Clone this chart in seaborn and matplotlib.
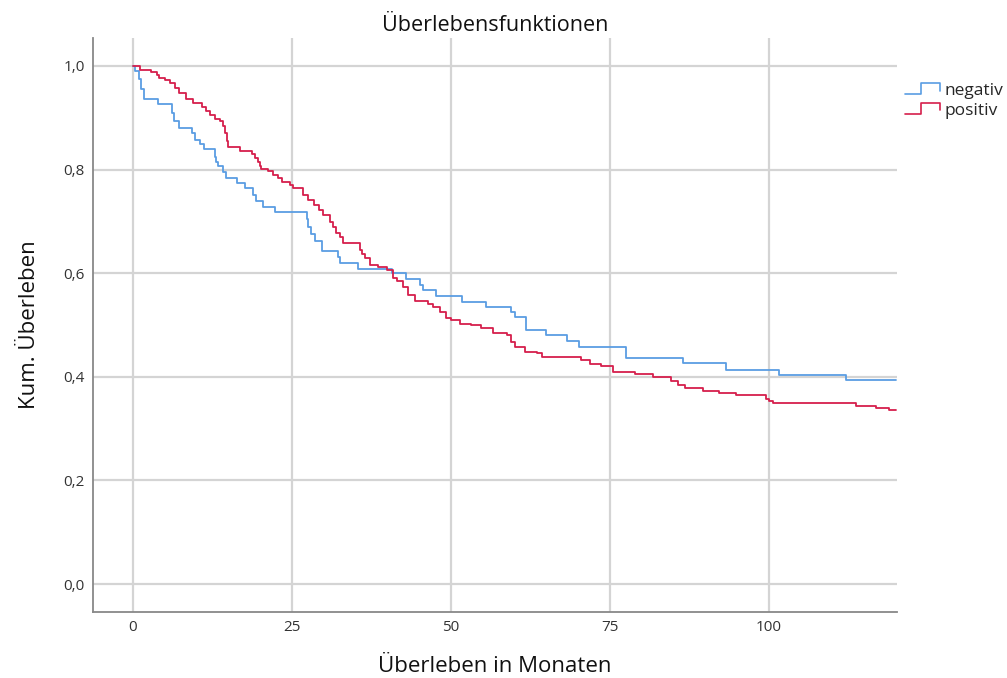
import matplotlib
matplotlib.use("Agg")
import matplotlib.pyplot as plt
import seaborn as sns
import pandas as pd
from matplotlib.legend_handler import HandlerBase
from matplotlib.lines import Line2D

# ---- data ----
neg_time = [0, 0.3, 1.0, 1.3, 1.7, 3.9, 6.1, 6.5, 7.3, 9.3, 9.8, 10.6, 11.2, 12.9, 13.1, 13.4,
            14.2, 14.7, 16.3, 17.6, 18.9, 19.4, 20.5, 22.3, 27.3, 27.6, 28.0, 28.6, 29.7, 32.2,
            32.6, 35.4, 40.8, 43.0, 45.1, 45.7, 47.6, 51.8, 55.6, 59.4, 60.1, 61.9, 65.0, 68.2,
            70.2, 77.6, 86.6, 93.3, 101.7, 112.1, 120.0]
neg_surv = [1.0, 0.990, 0.975, 0.955, 0.936, 0.926, 0.910, 0.894, 0.881, 0.871, 0.858, 0.849,
            0.839, 0.825, 0.815, 0.806, 0.796, 0.784, 0.774, 0.764, 0.751, 0.739, 0.728, 0.719,
            0.705, 0.690, 0.675, 0.662, 0.643, 0.632, 0.620, 0.609, 0.600, 0.589, 0.578, 0.568,
            0.556, 0.545, 0.534, 0.525, 0.515, 0.490, 0.481, 0.470, 0.458, 0.437, 0.426, 0.414,
            0.404, 0.394, 0.394]

pos_time = [0, 1.1, 2.9, 3.7, 4.1, 5.0, 5.8, 6.6, 7.3, 8.4, 9.4, 10.8, 11.5, 12.1, 12.9, 13.7,
            14.2, 14.5, 14.8, 15.0, 16.8, 18.7, 19.2, 19.6, 20.0, 20.2, 21.3, 22.0, 22.8, 23.5,
            24.7, 25.2, 26.8, 27.5, 28.4, 29.2, 29.9, 31.0, 31.5, 32.0, 32.5, 33.1, 35.7, 36.1,
            36.5, 37.3, 38.6, 39.9, 40.9, 41.5, 42.5, 43.3, 44.3, 46.4, 47.2, 48.3, 49.3, 50.1,
            51.4, 53.2, 54.8, 56.6, 58.8, 59.5, 60.1, 61.6, 63.5, 64.3, 70.5, 71.9, 73.7, 75.5,
            78.9, 81.8, 84.7, 85.7, 86.8, 89.7, 92.2, 94.9, 99.6, 100.0, 100.7, 113.8, 116.9,
            119.0, 120.0]
pos_surv = [1.0, 0.992, 0.988, 0.982, 0.977, 0.972, 0.967, 0.957, 0.947, 0.937, 0.928, 0.921,
            0.914, 0.905, 0.897, 0.894, 0.885, 0.870, 0.855, 0.844, 0.836, 0.831, 0.822, 0.814,
            0.806, 0.802, 0.797, 0.790, 0.783, 0.777, 0.770, 0.764, 0.751, 0.742, 0.732, 0.722,
            0.712, 0.699, 0.690, 0.678, 0.670, 0.659, 0.645, 0.637, 0.629, 0.616, 0.611, 0.606,
            0.590, 0.584, 0.574, 0.558, 0.547, 0.541, 0.535, 0.526, 0.513, 0.510, 0.502, 0.500,
            0.494, 0.484, 0.481, 0.468, 0.458, 0.448, 0.445, 0.439, 0.432, 0.424, 0.420, 0.410,
            0.405, 0.399, 0.392, 0.384, 0.378, 0.373, 0.368, 0.364, 0.357, 0.353, 0.349, 0.344,
            0.340, 0.336, 0.336]

groups = ["negativ", "positiv"]
colors = {"negativ": "#5a9de3", "positiv": "#d61f4c"}
x_ticks = [0, 25, 50, 75, 100]
y_ticks = [0.0, 0.2, 0.4, 0.6, 0.8, 1.0]
y_ticklabels = ["0,0", "0,2", "0,4", "0,6", "0,8", "1,0"]
title = "Überlebensfunktionen"
x_label = "Überleben in Monaten"
y_label = "Kum. Überleben"

df = pd.concat([
    pd.DataFrame({"time": neg_time, "surv": neg_surv, "group": "negativ"}),
    pd.DataFrame({"time": pos_time, "surv": pos_surv, "group": "positiv"}),
], ignore_index=True)

sns.set_theme(style="white")
plt.rcParams["font.family"] = ["Open Sans", "DejaVu Sans"]

fig = plt.figure(figsize=(10.07, 6.78), dpi=100)
ax = fig.add_axes([93 / 1007, 1 - 612 / 678, (897 - 93) / 1007, (612 - 38) / 678])

sns.lineplot(data=df, x="time", y="surv", hue="group", hue_order=groups, palette=colors,
             estimator=None, sort=False, drawstyle="steps-post", linewidth=1.3, ax=ax,
             legend=False)

ax.set_xlim(-6.3, 120.2)
ax.set_ylim(-0.054, 1.054)
ax.set_xticks(x_ticks)
ax.set_xticklabels([str(t) for t in x_ticks], fontsize=11, color="#333333")
ax.set_yticks(y_ticks)
ax.set_yticklabels(y_ticklabels, fontsize=11, color="#333333")
ax.tick_params(axis="y", length=0, pad=6)
ax.tick_params(axis="x", length=0, pad=6)
ax.grid(True, color="#d4d4d4", linewidth=1.6)
ax.set_axisbelow(True)
for s in ["top", "right"]:
    ax.spines[s].set_visible(False)
for s in ["left", "bottom"]:
    ax.spines[s].set_color("#888888")
    ax.spines[s].set_linewidth(1.3)

ax.set_title(title, fontsize=15.5, pad=5, color="#111111")
ax.set_xlabel(x_label, fontsize=16, labelpad=15, color="#111111")
ax.set_ylabel(y_label, fontsize=16, labelpad=17, color="#111111")


class StepHandler(HandlerBase):
    def create_artists(self, legend, orig_handle, xdescent, ydescent, width, height, fontsize, trans):
        x0 = -xdescent
        y0 = -ydescent
        xs = [x0, x0 + width * 0.45, x0 + width * 0.45, x0 + width, x0 + width]
        ys = [y0 + height * 0.1, y0 + height * 0.1, y0 + height * 1.0, y0 + height * 1.0,
              y0 + height * 0.35]
        ln = Line2D(xs, ys, color=orig_handle.get_color(), linewidth=1.2, transform=trans)
        return [ln]


handles = [Line2D([], [], color=colors[g]) for g in groups]
leg = fig.legend(handles, groups, loc="upper left", bbox_to_anchor=(898 / 1007, 1 - 76 / 678),
                 frameon=False, handler_map={Line2D: StepHandler()}, fontsize=12.5,
                 handlelength=2.0, handletextpad=0.3, labelspacing=0.2, borderaxespad=0)

fig.savefig("out.png", dpi=100)
